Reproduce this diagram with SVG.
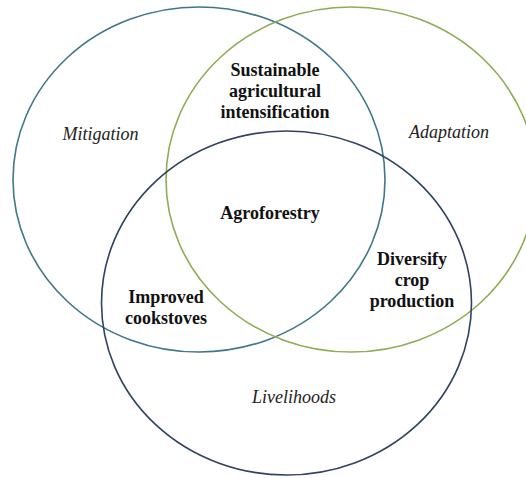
<svg xmlns="http://www.w3.org/2000/svg" width="526" height="478" viewBox="0 0 526 478">
<style>
.c{fill:none;stroke-width:1.6}
.b{font-family:'Liberation Serif',Tinos,'Times New Roman',Times,'DejaVu Serif',serif;font-weight:bold;font-size:18px;fill:#111;text-anchor:middle}
.i{font-family:'Liberation Serif',Tinos,'Times New Roman',Times,'DejaVu Serif',serif;font-style:italic;font-size:18px;fill:#222;text-anchor:middle}
</style>
<rect width="526" height="478" fill="#fff"/>
<g id="mitigation">
<ellipse class="c" cx="199" cy="179.5" rx="186" ry="172.5" stroke="#3f7688"/>
<text class="i" x="100.5" y="140">Mitigation</text>
</g>
<g id="adaptation">
<ellipse class="c" cx="351" cy="179.5" rx="185" ry="172.5" stroke="#8eac52"/>
<text class="i" x="449" y="138">Adaptation</text>
</g>
<g id="livelihoods">
<ellipse class="c" cx="286.5" cy="303" rx="185" ry="172" stroke="#2f4262"/>
<text class="i" x="294" y="403">Livelihoods</text>
</g>
<g id="sustainable">
<text class="b" x="275" y="76">Sustainable</text>
<text class="b" x="275" y="97">agricultural</text>
<text class="b" x="275" y="118">intensification</text>
</g>
<g id="agroforestry">
<text class="b" x="270" y="219">Agroforestry</text>
</g>
<g id="diversify">
<text class="b" x="412" y="265">Diversify</text>
<text class="b" x="412" y="286">crop</text>
<text class="b" x="412" y="307">production</text>
</g>
<g id="cookstoves">
<text class="b" x="166" y="303">Improved</text>
<text class="b" x="166" y="324">cookstoves</text>
</g>
<g id="connectors"></g>
</svg>
